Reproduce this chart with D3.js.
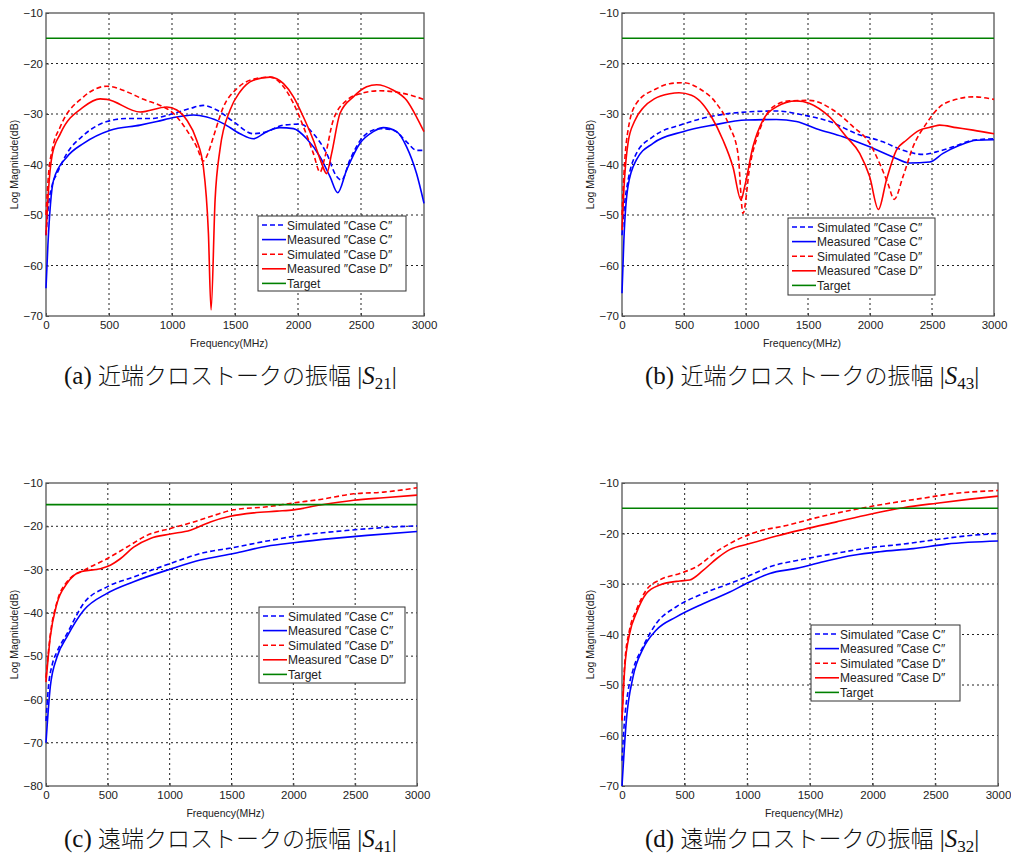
<!DOCTYPE html>
<html>
<head>
<meta charset="utf-8">
<script src="https://cdn.jsdelivr.net/npm/d3@7"></script>
<style>
  body { margin: 0; background: #fff; }
  text { font-family: "Liberation Sans", Arial, sans-serif; }
</style>
</head>
<body>
<svg id="chart" width="1011" height="857"></svg>
<script>
// ---- data (frequency MHz, magnitude dB) ----
var freqTicks = [0, 500, 1000, 1500, 2000, 2500, 3000];
var legendLabels = ["Simulated \u2033Case C\u2033", "Measured \u2033Case C\u2033",
                    "Simulated \u2033Case D\u2033", "Measured \u2033Case D\u2033", "Target"];
var captionWords = ["近端クロストークの振幅", "近端クロストークの振幅",
                    "遠端クロストークの振幅", "遠端クロストークの振幅"];
var captionIds = ["a", "b", "c", "d"];
var captionSubs = ["21", "43", "41", "32"];
var target = [[0, -15], [3000, -15]];

// (a) |S21|
var aSimC = [[0,-54],[20,-48],[50,-44],[87,-41.8],[166,-37.8],[298,-34.2],[483,-31.5],[642,-30.9],[827,-30.9],
  [1012,-29.9],[1144,-28.9],[1249,-28.3],[1355,-29.2],[1487,-31.5],[1646,-33.9],[1751,-33.5],[1885,-32.2],
  [2016,-32],[2122,-33.9],[2227,-37.8],[2307,-42.4],[2346,-43.1],[2412,-39.1],[2518,-34.5],[2650,-32.9],
  [2757,-33.2],[2862,-35.5],[2941,-37.2],[3000,-37.2]];
var aMeasC = [[0,-64.5],[15,-56],[35,-48],[61,-43],[166,-38.5],[298,-35.8],[510,-33.2],[747,-32.2],[880,-31.5],
  [1012,-30.7],[1170,-30.2],[1276,-30.6],[1408,-31.9],[1540,-33.9],[1646,-34.9],[1751,-33.5],[1857,-32.7],
  [1964,-32.9],[2069,-34.9],[2175,-38.5],[2254,-42.4],[2315,-45.6],[2386,-41.1],[2492,-35.8],[2597,-33.5],
  [2677,-32.7],[2783,-33.5],[2862,-36.5],[2941,-41.8],[3000,-47.7]];
var aSimD = [[0,-50],[20,-42],[50,-37],[114,-32.5],[298,-26.6],[483,-24.5],[642,-25.6],[774,-27.1],[906,-28.3],
  [1012,-29.9],[1117,-33.2],[1196,-36.5],[1249,-39.3],[1290,-37.5],[1329,-34.5],[1408,-28.6],[1514,-25],
  [1646,-23.1],[1779,-22.7],[1885,-24.6],[1964,-27.9],[2043,-32.5],[2122,-37.8],[2175,-41.5],[2214,-38.5],
  [2280,-31.2],[2386,-27.3],[2492,-26],[2650,-25.4],[2810,-25.8],[3000,-27.1]];
var aMeasD = [[0,-54],[20,-45],[50,-38],[114,-33.9],[298,-28.6],[430,-27],[483,-27.1],[747,-29.6],[959,-28.6],
  [1038,-29.2],[1117,-31.2],[1196,-35.2],[1249,-40.5],[1289,-53.6],[1310,-68.8],[1342,-47],[1381,-37],
  [1461,-29.2],[1540,-25.6],[1646,-23.3],[1779,-22.7],[1885,-24],[1964,-26.6],[2043,-30.6],[2122,-35.2],
  [2188,-39.8],[2227,-41.8],[2267,-37.8],[2333,-29.9],[2439,-26.6],[2545,-24.6],[2624,-24.2],[2757,-25.3],
  [2862,-27.3],[2941,-30.6],[3000,-33.5]];

// (b) |S43|
var bSimC = [[0,-54],[20,-48],[50,-43],[116,-37.8],[250,-34.5],[492,-32],[734,-30.4],[1003,-29.6],[1245,-29.4],
  [1460,-30.2],[1675,-31.5],[1890,-33.9],[2105,-35.5],[2266,-37.2],[2427,-38],[2535,-37.5],[2669,-36.5],
  [2831,-35.2],[3000,-34.9]];
var bMeasC = [[0,-65.5],[15,-55],[48,-44.4],[116,-39.1],[250,-35.8],[492,-33.5],[734,-32.2],[1003,-31.2],
  [1245,-31.1],[1406,-31.5],[1567,-32.9],[1782,-34.5],[1997,-36.5],[2185,-38.5],[2320,-39.7],[2481,-39.5],
  [2589,-37.8],[2723,-36.2],[2858,-35.2],[3000,-35.1]];
var bSimD = [[0,-50],[20,-40],[50,-33],[116,-27.9],[277,-25],[384,-24],[492,-23.8],[626,-25],[761,-27.9],
  [868,-32.5],[935,-37.8],[976,-49.7],[1030,-40.5],[1110,-33.2],[1218,-28.6],[1352,-27.4],[1513,-27.3],
  [1702,-29.2],[1863,-32.5],[1997,-35.8],[2078,-39.8],[2145,-43.8],[2195,-46.9],[2266,-42.4],[2347,-36.5],
  [2454,-31.9],[2562,-28.6],[2696,-27.1],[2831,-26.6],[3000,-27.1]];
var bMeasD = [[0,-53],[20,-43],[50,-35.5],[100,-31.5],[177,-28.6],[260,-27],[384,-26],[460,-25.8],[560,-26.3],
  [650,-28],[720,-30.5],[815,-35.2],[895,-40.5],[960,-47],[989,-44.4],[1056,-36.5],[1137,-31.2],[1245,-28.6],
  [1406,-27.4],[1513,-27.9],[1675,-30.6],[1809,-34.5],[1917,-37.8],[1997,-42.4],[2068,-48.9],[2132,-43.1],
  [2212,-37.2],[2293,-35.2],[2400,-33.2],[2508,-32.5],[2562,-32.2],[2696,-32.7],[2831,-33.2],[3000,-33.9]];

// (c) |S41|
var cSimC = [[0,-65],[20,-57],[50,-52],[89,-49],[170,-44.8],[305,-37.8],[493,-34],[709,-31.7],[1005,-28.6],
  [1248,-26.3],[1518,-24.9],[1787,-23.4],[2057,-22.1],[2461,-20.9],[2730,-20.3],[3000,-19.9]];
var cMeasC = [[0,-70],[35,-57],[89,-50.2],[170,-45.5],[305,-39.4],[493,-35.5],[709,-32.8],[1005,-29.9],
  [1248,-27.8],[1518,-26.3],[1787,-24.6],[2003,-23.8],[2326,-22.8],[2596,-22.1],[3000,-21.2]];
var cSimD = [[0,-55],[35,-45],[89,-37.5],[170,-32.8],[305,-30.2],[493,-27.5],[655,-24.8],[817,-22.1],
  [1005,-20.5],[1194,-19],[1356,-17.5],[1518,-16.2],[1787,-15.5],[2003,-14.6],[2218,-13.8],[2488,-12.5],
  [2730,-12.1],[3000,-11.1]];
var cMeasD = [[0,-56],[35,-45.5],[89,-37.8],[170,-33.2],[278,-30.5],[439,-29.8],[520,-29],[601,-27.5],
  [709,-24.8],[844,-22.8],[1005,-21.8],[1167,-20.9],[1329,-19],[1490,-17.7],[1679,-16.9],[1868,-16.5],
  [2003,-16.2],[2218,-15.1],[2488,-14],[2730,-13.4],[3000,-12.8]];

// (d) |S32|
var dSimC = [[0,-65],[20,-57],[50,-51],[88,-47],[168,-42.4],[274,-37.8],[434,-34.5],[647,-31.9],[860,-29.9],
  [993,-28.6],[1179,-26.6],[1446,-25.1],[1712,-23.9],[1978,-22.8],[2244,-22.1],[2511,-21.2],[2777,-20.4],
  [3000,-20]];
var dMeasC = [[0,-70],[35,-56.9],[88,-48.4],[168,-42.8],[274,-39.1],[434,-36.5],[647,-33.9],[860,-31.6],
  [993,-29.9],[1179,-27.9],[1392,-26.9],[1605,-25.6],[1845,-24.3],[2058,-23.6],[2324,-23],[2590,-22.1],
  [3000,-21.5]];
var dSimD = [[0,-57],[21,-46],[61,-39],[114,-35.2],[194,-31.2],[301,-29.2],[461,-27.9],[594,-26.6],[754,-23.6],
  [913,-21.3],[1073,-19.7],[1313,-18.4],[1579,-16.7],[1845,-15.3],[2111,-14.1],[2378,-13.1],[2644,-12.1],
  [3000,-11.5]];
var dMeasD = [[0,-57],[21,-47],[61,-39.8],[114,-35.8],[194,-31.9],[301,-30.2],[461,-29.4],[540,-29.2],
  [647,-27.3],[754,-25],[860,-23.2],[1020,-22],[1233,-20.5],[1446,-19.2],[1712,-17.7],[1978,-16.2],
  [2244,-14.9],[2511,-14],[2777,-13.2],[3000,-12.6]];

// ---- layout ----
var panels = [
  {left: 46,  right: 424, top: 13,  bottom: 316, yMin: -70, legend: [258, 216, 148, 75],
   series: [aSimC, aMeasC, aSimD, aMeasD, target], capX: 64,  capY: 384},
  {left: 622, right: 994, top: 13,  bottom: 316, yMin: -70, legend: [788, 218, 147, 77],
   series: [bSimC, bMeasC, bSimD, bMeasD, target], capX: 645, capY: 384},
  {left: 46,  right: 417, top: 483, bottom: 786, yMin: -80, legend: [259, 607, 146, 76],
   series: [cSimC, cMeasC, cSimD, cMeasD, target], capX: 64,  capY: 847},
  {left: 622, right: 998, top: 483, bottom: 786, yMin: -70, legend: [811, 625, 149, 76],
   series: [dSimC, dMeasC, dSimD, dMeasD, target], capX: 645, capY: 847}
];
var colors = ["#0000ff", "#0000ff", "#ff0000", "#ff0000", "#008000"];
var dashes = ["5,3", null, "5,3", null, null];

var svg = d3.select("#chart");

panels.forEach(function(p, i) {
  var x = d3.scaleLinear().domain([0, 3000]).range([p.left, p.right]);
  var y = d3.scaleLinear().domain([p.yMin, -10]).range([p.bottom, p.top]);
  var yTicks = d3.range(p.yMin, -9, 10);
  var g = svg.append("g");

  // dotted grid
  g.selectAll(".vgrid").data(freqTicks.slice(1, -1)).enter().append("line")
    .attr("x1", function(d) { return x(d); }).attr("x2", function(d) { return x(d); })
    .attr("y1", p.top).attr("y2", p.bottom)
    .attr("stroke", "#222").attr("stroke-width", 1).attr("stroke-dasharray", "2,3");
  g.selectAll(".hgrid").data(yTicks.slice(1, -1)).enter().append("line")
    .attr("x1", p.left).attr("x2", p.right)
    .attr("y1", function(d) { return y(d); }).attr("y2", function(d) { return y(d); })
    .attr("stroke", "#222").attr("stroke-width", 1).attr("stroke-dasharray", "2,3");

  // axes
  var xa = g.append("g").attr("transform", "translate(0," + p.bottom + ")")
    .call(d3.axisBottom(x).tickValues(freqTicks).tickSize(-3).tickPadding(5).tickFormat(d3.format("d")));
  var ya = g.append("g").attr("transform", "translate(" + p.left + ",0)")
    .call(d3.axisLeft(y).tickValues(yTicks).tickSize(-3).tickPadding(3)
      .tickFormat(function(d) { return "\u2212" + Math.abs(d); }));
  [xa, ya].forEach(function(a) {
    a.select(".domain").remove();
    a.selectAll("text").attr("font-size", 11.5).attr("fill", "#222")
      .style("font-family", "'Liberation Sans', Arial, sans-serif");
    a.selectAll("line").attr("stroke", "#444");
  });

  // frame
  g.append("rect").attr("x", p.left).attr("y", p.top)
    .attr("width", p.right - p.left).attr("height", p.bottom - p.top)
    .attr("fill", "none").attr("stroke", "#555").attr("stroke-width", 1.3);

  // curves
  var line = d3.line()
    .x(function(d) { return x(d[0]); })
    .y(function(d) { return y(d[1]); })
    .curve(d3.curveMonotoneX);
  p.series.forEach(function(s, k) {
    g.append("path").datum(s).attr("d", line)
      .attr("fill", "none").attr("stroke", colors[k]).attr("stroke-width", 1.6)
      .attr("stroke-dasharray", dashes[k]);
  });

  // axis titles
  g.append("text").attr("x", (p.left + p.right) / 2 - 6).attr("y", p.bottom + 31)
    .attr("text-anchor", "middle").attr("font-size", 10.5).attr("fill", "#222")
    .text("Frequency(MHz)");
  g.append("text")
    .attr("transform", "translate(" + (p.left - 28) + "," + ((p.top + p.bottom) / 2) + ") rotate(-90)")
    .attr("text-anchor", "middle").attr("font-size", 10.5).attr("fill", "#222")
    .text("Log Magnitude(dB)");

  // legend
  var L = p.legend;
  g.append("rect").attr("x", L[0]).attr("y", L[1]).attr("width", L[2]).attr("height", L[3])
    .attr("fill", "#fff").attr("stroke", "#333").attr("stroke-width", 1);
  legendLabels.forEach(function(lab, k) {
    var ry = L[1] + 9 + k * 14.6;
    g.append("line").attr("x1", L[0] + 4).attr("x2", L[0] + 28)
      .attr("y1", ry).attr("y2", ry)
      .attr("stroke", colors[k]).attr("stroke-width", 1.6).attr("stroke-dasharray", dashes[k]);
    g.append("text").attr("x", L[0] + 29).attr("y", ry + 4.5)
      .attr("font-size", 12).attr("fill", "#222").text(lab);
  });

  // caption
  var cap = g.append("text").attr("x", p.capX).attr("y", p.capY).attr("font-size", 25)
    .attr("fill", "#111").style("font-family", "'Liberation Serif', 'Noto Sans CJK JP', serif");
  cap.append("tspan").text("(" + captionIds[i] + ") ");
  cap.append("tspan").style("font-family", "'Noto Sans CJK JP', sans-serif").attr("font-size", 23)
    .attr("font-weight", 300).text(captionWords[i]);
  cap.append("tspan").text(" |");
  cap.append("tspan").attr("font-style", "italic").text("S");
  cap.append("tspan").attr("font-size", 17).attr("dy", 5).text(captionSubs[i]);
  cap.append("tspan").attr("dy", -5).text("|");
});
</script>
</body>
</html>
